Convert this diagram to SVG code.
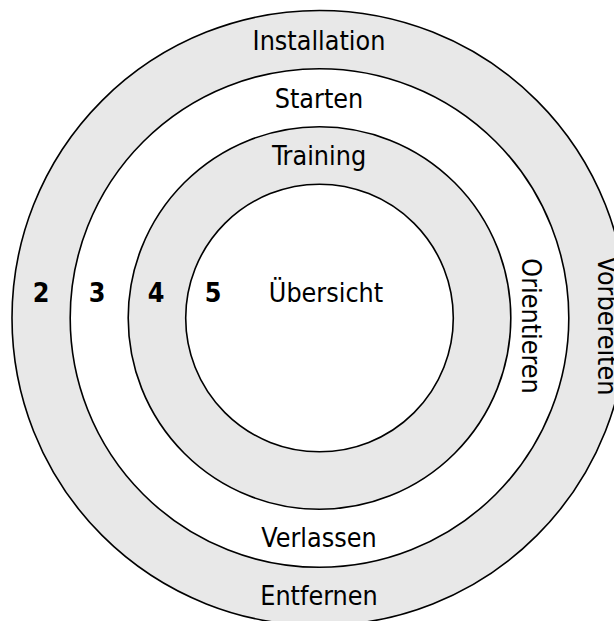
<svg xmlns="http://www.w3.org/2000/svg" width="614" height="621" viewBox="0 0 614 621">
<style>
.ring{stroke:#000;stroke-width:1.6}
.g{fill:#e8e8e8}
.w{fill:#fff}
text{font-family:"DejaVu Sans Condensed","Liberation Sans",sans-serif;font-size:26.67px;fill:#000;text-anchor:middle}
.num{font-weight:bold}
</style>
<rect width="614" height="621" fill="#fff"/>
<g id="ring2">
<circle class="ring g" cx="319.5" cy="318" r="307.5"/>
<text x="319" y="49.5">Installation</text>
<text x="319" y="604.5">Entfernen</text>
<text transform="translate(598,326) rotate(90)">Vorbereiten</text>
<text class="num" x="41" y="302">2</text>
</g>
<g id="ring3">
<circle class="ring w" cx="319.5" cy="318" r="249.3"/>
<text x="319" y="107.5">Starten</text>
<text x="319" y="546.5">Verlassen</text>
<text transform="translate(521.7,326) rotate(90)">Orientieren</text>
<text class="num" x="97" y="302">3</text>
</g>
<g id="ring4">
<circle class="ring g" cx="319.5" cy="318" r="191.3"/>
<text x="319" y="164.5">Training</text>
<text class="num" x="156" y="302">4</text>
</g>
<g id="ring5">
<circle class="ring w" cx="319.5" cy="318" r="133.8"/>
<text class="num" x="213" y="302">5</text>
<text x="326" y="302">Übersicht</text>
</g>
<g id="connectors"/>
</svg>
